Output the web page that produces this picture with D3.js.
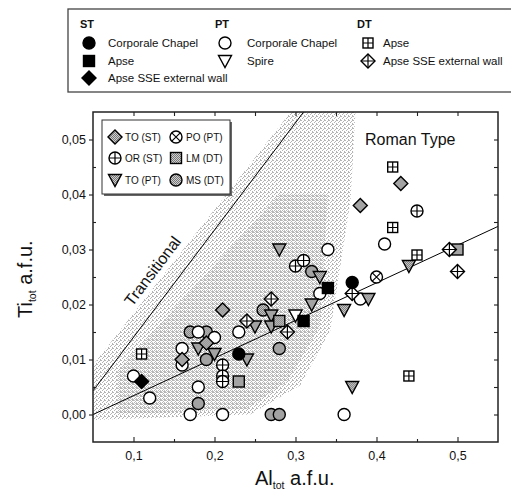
<!DOCTYPE html>
<html>
<head>
<meta charset="utf-8">
<script src="https://cdn.jsdelivr.net/npm/d3@7"></script>
<style>
  body { margin: 0; background: #fff; }
  text { font-family: Arial, "Liberation Sans", sans-serif; fill: #111; }
</style>
</head>
<body>
<div id="chart"></div>
<script>
// ----- data (Al_tot, Ti_tot) -----
const stCorporale = [[0.23, 0.011], [0.37, 0.024]];
const stApse = [[0.31, 0.017], [0.34, 0.023]];
const stApseSSE = [[0.11, 0.006]];
const ptCorporale = [[0.10, 0.007], [0.12, 0.003], [0.17, 0.000], [0.21, 0.000], [0.18, 0.005],
  [0.16, 0.012], [0.16, 0.009], [0.18, 0.015], [0.20, 0.014], [0.23, 0.015], [0.34, 0.030],
  [0.33, 0.022], [0.38, 0.021], [0.41, 0.031], [0.36, 0.000]];
const ptSpire = [[0.30, 0.018]];
const dtApse = [[0.11, 0.011], [0.42, 0.045], [0.42, 0.034], [0.45, 0.029], [0.44, 0.007]];
const dtApseSSE = [[0.24, 0.017], [0.27, 0.021], [0.29, 0.015], [0.37, 0.022], [0.49, 0.030], [0.50, 0.026]];
const toST = [[0.16, 0.010], [0.19, 0.013], [0.21, 0.019], [0.38, 0.038], [0.43, 0.042]];
const orST = [[0.21, 0.009], [0.21, 0.007], [0.21, 0.006], [0.30, 0.027], [0.31, 0.028], [0.45, 0.037]];
const toPT = [[0.18, 0.012], [0.20, 0.011], [0.24, 0.010], [0.25, 0.016], [0.27, 0.018], [0.27, 0.016],
  [0.28, 0.030], [0.32, 0.020], [0.33, 0.025], [0.36, 0.019], [0.39, 0.021], [0.37, 0.005], [0.44, 0.027]];
const poPT = [[0.40, 0.025]];
const lmDT = [[0.23, 0.006], [0.28, 0.017], [0.50, 0.030]];
const msDT = [[0.18, 0.002], [0.17, 0.015], [0.19, 0.015], [0.19, 0.010], [0.26, 0.019], [0.28, 0.012],
  [0.27, 0.000], [0.28, 0.000], [0.32, 0.026]];

// reference lines and the shaded field
const transitionalLine = [[0.05, 0.0043], [0.31, 0.055]];
const romanLine = [[0.05, 0.0], [0.55, 0.0342]];
const fieldArea = [[0.05, 0.009], [0.294, 0.055], [0.374, 0.055], [0.368, 0.039], [0.343, 0.0153],
  [0.306, 0.0053], [0.244, 0.0], [0.05, -0.001]];
const fieldCore = [[0.08, 0.008], [0.28, 0.04], [0.34, 0.04], [0.33, 0.016], [0.29, 0.006],
  [0.24, 0.001], [0.08, 0.0]];

const xMajor = [0.1, 0.2, 0.3, 0.4, 0.5];
const xMinor = [0.15, 0.25, 0.35, 0.45];
const yMajor = [0.00, 0.01, 0.02, 0.03, 0.04, 0.05];
const yMinor = [0.005, 0.015, 0.025, 0.035, 0.045];

const series = [
  {data: msDT, shape: "circle", fill: "grey"},
  {data: ptCorporale, shape: "circle", fill: "white"},
  {data: toPT, shape: "triangle", fill: "grey"},
  {data: ptSpire, shape: "triangle", fill: "white"},
  {data: toST, shape: "diamond", fill: "grey"},
  {data: orST, shape: "circlePlus", fill: "white"},
  {data: poPT, shape: "circleX", fill: "white"},
  {data: lmDT, shape: "square", fill: "grey"},
  {data: dtApse, shape: "squarePlus", fill: "white"},
  {data: dtApseSSE, shape: "diamondPlus", fill: "white"},
  {data: stCorporale, shape: "circle", fill: "black"},
  {data: stApse, shape: "square", fill: "black"},
  {data: stApseSSE, shape: "diamond", fill: "black"}
];

const margin = {top: 112, left: 93},
      width = 405, height = 330;

const svg = d3.select("#chart").append("svg")
    .attr("width", 511).attr("height", 495);

const defs = svg.append("defs");
// sparse stipple for the field, a bit denser in its core
const stip = defs.append("pattern").attr("id", "stip")
    .attr("width", 4).attr("height", 4).attr("patternUnits", "userSpaceOnUse");
[[0, 0], [2, 1], [1, 2], [3, 3], [3, 0]].forEach(p =>
  stip.append("rect").attr("x", p[0]).attr("y", p[1]).attr("width", 1).attr("height", 1).attr("fill", "#b4b4b4"));
const stip2 = defs.append("pattern").attr("id", "stip2")
    .attr("width", 4).attr("height", 4).attr("patternUnits", "userSpaceOnUse");
[[1, 0], [3, 2], [0, 3], [2, 3]].forEach(p =>
  stip2.append("rect").attr("x", p[0]).attr("y", p[1]).attr("width", 1).attr("height", 1).attr("fill", "#c2c2c2"));
const half = defs.append("pattern").attr("id", "half")
    .attr("width", 2).attr("height", 2).attr("patternUnits", "userSpaceOnUse");
half.append("rect").attr("width", 2).attr("height", 2).attr("fill", "#cfcfcf");
half.append("rect").attr("width", 1).attr("height", 1).attr("fill", "#777");
half.append("rect").attr("x", 1).attr("y", 1).attr("width", 1).attr("height", 1).attr("fill", "#777");
defs.append("clipPath").attr("id", "plotclip")
  .append("rect").attr("width", width).attr("height", height);

const fillOf = f => f === "grey" ? "url(#half)" : f;

// draws one symbol centred on 0,0 inside g
function drawSymbol(g, shape, fill) {
  const f = fillOf(fill), sw = 1.4;
  let base;
  if (shape.startsWith("circle")) {
    base = g.append("circle").attr("r", 6);
  } else if (shape.startsWith("square")) {
    const s = shape === "squarePlus" ? 5 : 5.5;
    base = g.append("rect").attr("x", -s).attr("y", -s).attr("width", 2 * s).attr("height", 2 * s);
  } else if (shape.startsWith("diamond")) {
    base = g.append("path").attr("d", "M0,-7L7,0L0,7L-7,0Z");
  } else {
    base = g.append("path").attr("d", "M-6.5,-5.5L6.5,-5.5L0,6.5Z");
  }
  base.attr("fill", f).attr("stroke", "#000").attr("stroke-width", sw);
  if (shape.endsWith("Plus")) {
    const s = shape === "squarePlus" ? 5 : (shape === "circlePlus" ? 6 : 7);
    g.append("path").attr("d", `M${-s},0H${s}M0,${-s}V${s}`)
      .attr("stroke", "#000").attr("stroke-width", 1.2);
  }
  if (shape === "circleX") {
    g.append("path").attr("d", "M-4.2,-4.2L4.2,4.2M4.2,-4.2L-4.2,4.2")
      .attr("stroke", "#000").attr("stroke-width", 1.2);
  }
}

const chart = svg.append("g")
    .attr("transform", "translate(" + margin.left + "," + margin.top + ")");

const x = d3.scaleLinear().domain([0.05, 0.55]).range([0, width]);
const y = d3.scaleLinear().domain([-0.005, 0.055]).range([height, 0]);
const line = d3.line().x(d => x(d[0])).y(d => y(d[1]));

const plot = chart.append("g").attr("clip-path", "url(#plotclip)");

// stippled field
plot.append("path").attr("d", line(fieldArea) + "Z").attr("fill", "url(#stip)");
plot.append("path").attr("d", line(fieldCore) + "Z").attr("fill", "url(#stip2)");

// lines
[transitionalLine, romanLine].forEach(l => {
  plot.append("path")
    .attr("d", line(l))
    .attr("stroke", "#000").attr("stroke-width", 1).attr("fill", "none");
});

// points
series.forEach(s => {
  chart.append("g").selectAll("g")
    .data(s.data)
    .join("g")
      .attr("transform", d => "translate(" + x(d[0]) + "," + y(d[1]) + ")")
      .each(function () { drawSymbol(d3.select(this), s.shape, s.fill); });
});

// axes
const fmtX = d => d3.format(".1f")(d).replace(".", ",");
const fmtY = d => d3.format(".2f")(Math.abs(d) < 1e-9 ? 0 : d).replace(".", ",");

function styleAxis(a) {
  a.select(".domain").remove();
  a.selectAll(".tick line").attr("stroke", "#222").attr("stroke-width", 1.1);
  a.selectAll(".tick text").style("font-size", "12.5px").attr("fill", "#111");
}

chart.append("g").attr("transform", "translate(0," + height + ")")
  .call(d3.axisBottom(x).tickValues(xMajor).tickSize(-5).tickPadding(9).tickFormat(fmtX))
  .call(styleAxis);
chart.append("g").attr("transform", "translate(0," + height + ")")
  .call(d3.axisBottom(x).tickValues(xMinor).tickSize(-3).tickFormat(""))
  .call(styleAxis);
chart.append("g")
  .call(d3.axisTop(x).tickValues(xMajor.concat(xMinor)).tickSize(-4).tickFormat(""))
  .call(styleAxis);
chart.append("g")
  .call(d3.axisLeft(y).tickValues(yMajor).tickSize(4).tickPadding(3).tickFormat(fmtY))
  .call(styleAxis);
chart.append("g")
  .call(d3.axisLeft(y).tickValues(yMinor).tickSize(-3).tickFormat(""))
  .call(styleAxis);
chart.append("g").attr("transform", "translate(" + width + ",0)")
  .call(d3.axisRight(y).tickValues(yMajor.concat(yMinor)).tickSize(-4).tickFormat(""))
  .call(styleAxis);

// frame
chart.append("rect")
  .attr("width", width).attr("height", height)
  .attr("fill", "none").attr("stroke", "#222").attr("stroke-width", 1.5);

// annotations
chart.append("text")
  .attr("transform", "translate(" + (152.5 - margin.left) + "," + (271 - margin.top) + ") rotate(-53)")
  .attr("text-anchor", "middle").attr("dy", "0.35em")
  .style("font-size", "16px")
  .text("Transitional");
chart.append("text")
  .attr("x", 365 - margin.left).attr("y", 145 - margin.top)
  .style("font-size", "16px")
  .text("Roman Type");

// axis titles
const xt = svg.append("text").attr("x", 255).attr("y", 485).style("font-size", "20px");
xt.append("tspan").text("Al");
xt.append("tspan").attr("dy", 4).style("font-size", "10.5px").text("tot");
xt.append("tspan").attr("dy", -4).text(" a.f.u.");

const yt = svg.append("text")
  .attr("transform", "translate(32,318) rotate(-90)")
  .style("font-size", "20px");
yt.append("tspan").text("Ti");
yt.append("tspan").attr("dy", 4).style("font-size", "10.5px").text("tot");
yt.append("tspan").attr("dy", -4).text(" a.f.u.");

// inner legend
const innerLegend = svg.append("g");
innerLegend.append("rect").attr("x", 104).attr("y", 122).attr("width", 128).attr("height", 74).attr("fill", "#666");
innerLegend.append("rect").attr("x", 102).attr("y", 120).attr("width", 128).attr("height", 74)
  .attr("fill", "#fff").attr("stroke", "#333").attr("stroke-width", 1);
const innerItems = [
  {label: "TO (ST)", shape: "diamond", fill: "grey", cx: 115, cy: 137},
  {label: "OR (ST)", shape: "circlePlus", fill: "white", cx: 115, cy: 158},
  {label: "TO (PT)", shape: "triangle", fill: "grey", cx: 115, cy: 180},
  {label: "PO (PT)", shape: "circleX", fill: "white", cx: 176, cy: 137},
  {label: "LM (DT)", shape: "square", fill: "grey", cx: 176, cy: 158},
  {label: "MS (DT)", shape: "circle", fill: "grey", cx: 176, cy: 180}
];
innerItems.forEach(it => {
  drawSymbol(innerLegend.append("g").attr("transform", "translate(" + it.cx + "," + it.cy + ")"), it.shape, it.fill);
  innerLegend.append("text").attr("x", it.cx + 10).attr("y", it.cy).attr("dy", "0.35em")
    .style("font-size", "10px").text(it.label);
});

// top legend
const topLegend = svg.append("g");
topLegend.append("rect").attr("x", 68).attr("y", 9).attr("width", 460).attr("height", 83)
  .attr("fill", "none").attr("stroke", "#444").attr("stroke-width", 1.3);
const legendCols = [
  {head: "ST", hx: 80, mx: 89, tx: 108, items: [
    {label: "Corporale Chapel", shape: "circle", fill: "black"},
    {label: "Apse", shape: "square", fill: "black"},
    {label: "Apse SSE external wall", shape: "diamond", fill: "black"}]},
  {head: "PT", hx: 215, mx: 225, tx: 247, items: [
    {label: "Corporale Chapel", shape: "circle", fill: "white"},
    {label: "Spire", shape: "triangle", fill: "white"}]},
  {head: "DT", hx: 357, mx: 368, tx: 383, items: [
    {label: "Apse", shape: "squarePlus", fill: "white"},
    {label: "Apse SSE external wall", shape: "diamondPlus", fill: "white"}]}
];
const rowY = [43, 61, 78];
legendCols.forEach(c => {
  topLegend.append("text").attr("x", c.hx).attr("y", 28)
    .style("font-size", "11px").style("font-weight", "bold").text(c.head);
  c.items.forEach((it, i) => {
    drawSymbol(topLegend.append("g").attr("transform", "translate(" + c.mx + "," + rowY[i] + ")"), it.shape, it.fill);
    topLegend.append("text").attr("x", c.tx).attr("y", rowY[i]).attr("dy", "0.35em")
      .style("font-size", "11.5px").text(it.label);
  });
});
</script>
</body>
</html>
